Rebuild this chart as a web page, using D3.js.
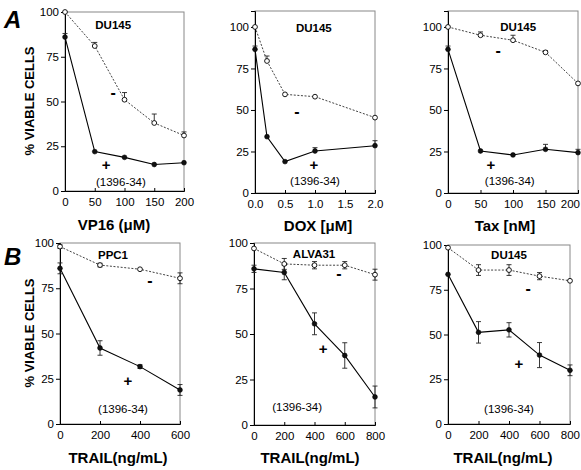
<!DOCTYPE html>
<html>
<head>
<meta charset="utf-8">
<script src="https://cdn.jsdelivr.net/npm/d3@7"></script>
<style>
  body { margin: 0; background: #fff; }
  svg { display: block; font-family: "Liberation Sans", Arial, Helvetica, sans-serif; }
</style>
</head>
<body>
<svg id="chart" width="581" height="470"></svg>
<script>
// ---- data ----
const vp16Dose = [0, 50, 100, 150, 200];
const vp16Minus = [100, 81, 51, 38, 31];
const vp16MinusErr = [0, 2, 4, 5, 2];
const vp16Plus = [86, 22, 18.8, 14.8, 15.8];
const vp16PlusErr = [2, 0, 0, 0, 0];

const doxDose = [0, 0.2, 0.5, 1.0, 2.0];
const doxMinus = [100, 79.5, 59.4, 58, 45.4];
const doxMinusErr = [0, 3, 0, 0, 0];
const doxPlus = [86.5, 33.9, 18.9, 25.3, 28.5];
const doxPlusErr = [2, 0, 0, 2, 3];

const taxDose = [0, 50, 100, 150, 200];
const taxMinus = [100, 95, 92, 84.7, 66];
const taxMinusErr = [0, 2, 3, 1, 0];
const taxPlus = [86.5, 25.3, 22.9, 26.3, 24.3];
const taxPlusErr = [2, 0, 0, 3, 2];

const ppc1Dose = [0, 200, 400, 600];
const ppc1Minus = [98, 87.8, 85.5, 80.5];
const ppc1MinusErr = [1, 1, 0, 3];
const ppc1Plus = [86, 42, 31.7, 18.8];
const ppc1PlusErr = [3, 4, 1, 3];

const alvaDose = [0, 200, 400, 600, 800];
const alvaMinus = [97, 88.5, 87.8, 87.8, 82.6];
const alvaMinusErr = [0, 3, 2, 2, 3];
const alvaPlus = [85.8, 83.8, 55.6, 38.2, 15.4];
const alvaPlusErr = [2, 4, 6, 7, 6];

const du145Dose = [0, 200, 400, 600, 800];
const du145Minus = [98.5, 86, 86, 82.6, 80];
const du145MinusErr = [0, 3, 3, 2, 0];
const du145Plus = [83.6, 51.2, 52.6, 38.5, 30];
const du145PlusErr = [0, 6, 4, 7, 3];

const yTicks = [0, 25, 50, 75, 100];
const vp16Ticks = [0, 50, 100, 150, 200];
const doxTicks = [0, 0.5, 1.0, 1.5, 2.0];
const taxTicks = [0, 50, 100, 150, 200];
const ppc1Ticks = [0, 200, 400, 600];
const trailTicks = [0, 200, 400, 600, 800];

// ---- panel layout ----
const panels = [
  { left: 65, right: 184, top: 12, bottom: 191, ymax: 100, xmax: 200, ticks: vp16Ticks, fmt: d3.format('d'),
    dose: vp16Dose, minus: vp16Minus, minusErr: vp16MinusErr, plus: vp16Plus, plusErr: vp16PlusErr, bothErr: false,
    xlabel: 'VP16 (\u03bcM)', xlabelX: 114, xlabelY: 230, cell: 'DU145',
    cellAt: [81, 90.5], minusAt: [81, 52], plusAt: [69, 12], noteAt: [94, 2.8] },
  { left: 255, right: 375, top: 11, bottom: 193, ymax: 109.6, xmax: 2, ticks: doxTicks, fmt: d3.format('.1f'),
    dose: doxDose, minus: doxMinus, minusErr: doxMinusErr, plus: doxPlus, plusErr: doxPlusErr, bothErr: false,
    xlabel: 'DOX [\u03bcM]', xlabelX: 318, xlabelY: 231, cell: 'DU145',
    cellAt: [0.98, 97], minusAt: [0.7, 45.8], plusAt: [0.98, 13.9], noteAt: [1.0, 4.8] },
  { left: 448, right: 578, top: 11, bottom: 193, ymax: 109.6, xmax: 200, ticks: taxTicks, fmt: d3.format('d'),
    dose: taxDose, minus: taxMinus, minusErr: taxMinusErr, plus: taxPlus, plusErr: taxPlusErr, bothErr: false,
    xlabel: 'Tax [nM]', xlabelX: 505, xlabelY: 231, cell: 'DU145',
    cellAt: [108, 97.6], minusAt: [77, 82.5], plusAt: [66, 13.9], noteAt: [95, 4.8] },
  { left: 60, right: 180, top: 243, bottom: 424, ymax: 100, xmax: 600, ticks: ppc1Ticks, fmt: d3.format('d'),
    dose: ppc1Dose, minus: ppc1Minus, minusErr: ppc1MinusErr, plus: ppc1Plus, plusErr: ppc1PlusErr, bothErr: true,
    xlabel: 'TRAIL(ng/mL)', xlabelX: 118, xlabelY: 463, cell: 'PPC1',
    cellAt: [265, 91], minusAt: [450, 76], plusAt: [340, 21], noteAt: [315, 6] },
  { left: 254, right: 375, top: 243, bottom: 425, ymax: 100, xmax: 800, ticks: trailTicks, fmt: d3.format('d'),
    dose: alvaDose, minus: alvaMinus, minusErr: alvaMinusErr, plus: alvaPlus, plusErr: alvaPlusErr, bothErr: true,
    xlabel: 'TRAIL(ng/mL)', xlabelX: 310, xlabelY: 463, cell: 'ALVA31',
    cellAt: [397, 91.8], minusAt: [562, 80], plusAt: [457, 39], noteAt: [285, 7.7] },
  { left: 448, right: 570, top: 245, bottom: 424, ymax: 100, xmax: 800, ticks: trailTicks, fmt: d3.format('d'),
    dose: du145Dose, minus: du145Minus, minusErr: du145MinusErr, plus: du145Plus, plusErr: du145PlusErr, bothErr: true,
    xlabel: 'TRAIL(ng/mL)', xlabelX: 503, xlabelY: 463, cell: 'DU145',
    cellAt: [400, 92], minusAt: [525, 72.6], plusAt: [465, 31], noteAt: [400, 6] }
];

const svg = d3.select('#chart');

panels.forEach(p => {
  const x = d3.scaleLinear().domain([0, p.xmax]).range([p.left, p.right]);
  const y = d3.scaleLinear().domain([0, p.ymax]).range([p.bottom, p.top]);
  const g = svg.append('g');

  // frame
  g.append('rect')
    .attr('x', p.left).attr('y', p.top)
    .attr('width', p.right - p.left).attr('height', p.bottom - p.top)
    .attr('fill', 'none').attr('stroke', '#888').attr('stroke-width', 1);

  // axes
  const yAxis = g.append('g')
    .attr('transform', `translate(${p.left},0)`)
    .call(d3.axisLeft(y).tickValues(yTicks).tickSize(4).tickPadding(2));
  const xAxis = g.append('g')
    .attr('transform', `translate(0,${p.bottom})`)
    .call(d3.axisBottom(x).tickValues(p.ticks).tickFormat(p.fmt).tickSize(-3).tickPadding(7));
  [xAxis, yAxis].forEach(a => {
    a.select('.domain').attr('stroke', '#000');
    a.selectAll('.tick line').attr('stroke', '#000');
    a.selectAll('text').attr('font-size', 11.5).attr('fill', '#000')
      .attr('font-family', '"Liberation Sans", Arial, sans-serif');
  });
  // keep the last tick label inside the window
  const lastLabel = xAxis.selectAll('.tick text').filter((d, i, n) => i === n.length - 1);
  const box = lastLabel.node().getBoundingClientRect();
  if (box.right > 580) lastLabel.attr('dx', 580 - box.right);

  const minusPts = p.dose.map((d, i) => ({ x: d, y: p.minus[i], e: p.minusErr[i] }));
  const plusPts = p.dose.map((d, i) => ({ x: d, y: p.plus[i], e: p.plusErr[i] }));
  const line = d3.line().x(d => x(d.x)).y(d => y(d.y));

  // error bars
  [minusPts, plusPts].forEach(pts => {
    const eb = g.append('g').attr('stroke', '#222').attr('stroke-width', 0.9);
    pts.filter(d => d.e > 0).forEach(d => {
      const lo = p.bothErr ? d.y - d.e : d.y;
      eb.append('line').attr('x1', x(d.x)).attr('x2', x(d.x)).attr('y1', y(lo)).attr('y2', y(d.y + d.e));
      eb.append('line').attr('x1', x(d.x) - 2.5).attr('x2', x(d.x) + 2.5)
        .attr('y1', y(d.y + d.e)).attr('y2', y(d.y + d.e));
      if (p.bothErr) {
        eb.append('line').attr('x1', x(d.x) - 2.5).attr('x2', x(d.x) + 2.5)
          .attr('y1', y(lo)).attr('y2', y(lo));
      }
    });
  });

  // lines
  g.append('path').datum(minusPts).attr('d', line)
    .attr('fill', 'none').attr('stroke', '#111').attr('stroke-width', 0.8).attr('stroke-dasharray', '2,1.6');
  g.append('path').datum(plusPts).attr('d', line)
    .attr('fill', 'none').attr('stroke', '#000').attr('stroke-width', 1.1);

  // markers
  g.selectAll('.open').data(minusPts).join('circle')
    .attr('cx', d => x(d.x)).attr('cy', d => y(d.y)).attr('r', 2.4)
    .attr('fill', '#fff').attr('stroke', '#000').attr('stroke-width', 0.9);
  g.selectAll('.filled').data(plusPts).join('circle')
    .attr('cx', d => x(d.x)).attr('cy', d => y(d.y)).attr('r', 2.4)
    .attr('fill', '#111').attr('stroke', '#000').attr('stroke-width', 0.6);

  // annotations
  g.append('text').attr('x', x(p.cellAt[0])).attr('y', y(p.cellAt[1]))
    .attr('text-anchor', 'middle').attr('font-weight', 'bold').attr('font-size', 11.5).text(p.cell);
  g.append('text').attr('x', x(p.minusAt[0])).attr('y', y(p.minusAt[1]))
    .attr('text-anchor', 'middle').attr('font-weight', 'bold').attr('font-size', 16).text('-');
  g.append('text').attr('x', x(p.plusAt[0])).attr('y', y(p.plusAt[1]))
    .attr('text-anchor', 'middle').attr('font-weight', 'bold').attr('font-size', 15).text('+');
  g.append('text').attr('x', x(p.noteAt[0])).attr('y', y(p.noteAt[1]))
    .attr('text-anchor', 'middle').attr('font-size', 11.5).text('(1396-34)');

  // x label
  g.append('text').attr('x', p.xlabelX).attr('y', p.xlabelY)
    .attr('text-anchor', 'middle').attr('font-weight', 'bold').attr('font-size', 15).text(p.xlabel);
});

// y-axis titles and panel letters
[[101, 'A', 28], [333, 'B', 265]].forEach(([cy, letter, ly]) => {
  svg.append('text').attr('transform', `translate(34,${cy}) rotate(-90)`)
    .attr('text-anchor', 'middle').attr('font-weight', 'bold').attr('font-size', 13)
    .text('% VIABLE CELLS');
  svg.append('text').attr('x', 4).attr('y', ly)
    .attr('font-weight', 'bold').attr('font-style', 'italic').attr('font-size', 24)
    .text(letter);
});
</script>
</body>
</html>
